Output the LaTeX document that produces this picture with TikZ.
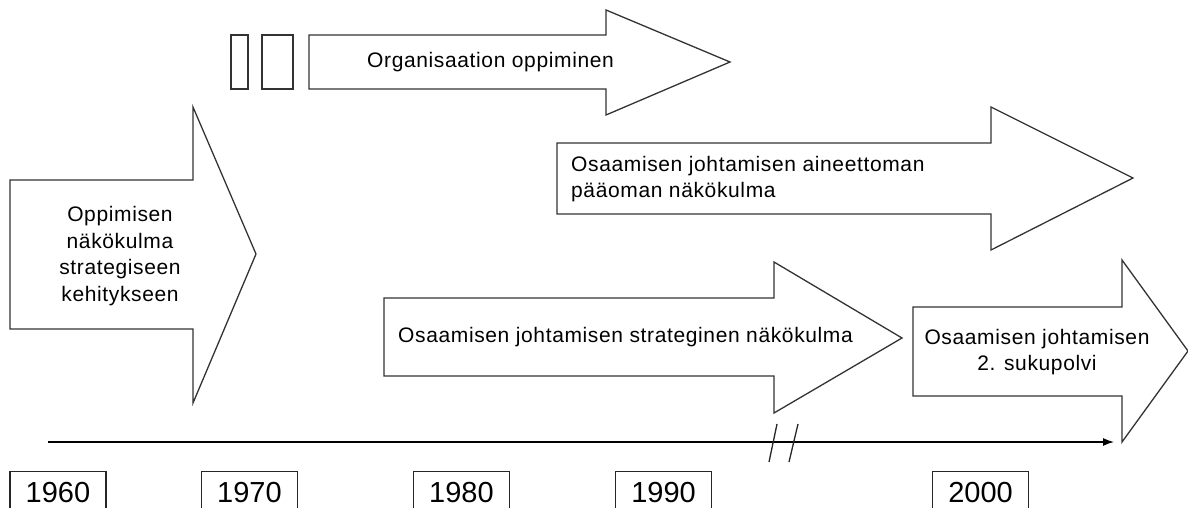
\documentclass[tikz,border=0pt]{standalone}
\usepackage{fontspec}
\setmainfont{Liberation Sans}
\newfontfamily\labelfont[LetterSpace=3]{Liberation Sans}
\usetikzlibrary{arrows.meta}
\tikzset{
  blockarrow/.style={draw=black!80, line width=1.3pt, fill=white, line join=miter},
  smallbox/.style={draw=black!80, line width=1.3pt},
  label/.style={font=\labelfont\fontsize{21}{26.5}\selectfont, text=black, inner sep=0pt},
  yearbox/.style={draw=black!85, line width=1.2pt, font=\fontsize{29}{32}\selectfont,
    minimum width=96pt, minimum height=56pt, anchor=north, inner sep=0pt, text depth=0pt},
  timeline/.style={line width=1.3pt, -{Latex[length=11pt,width=8pt]}},
  breakmark/.style={line width=1.3pt, black!85}
}
\begin{document}
\begin{tikzpicture}[x=1pt,y=-1pt]
\useasboundingbox (0,0) rectangle (1188,508);

% learning perspective to strategic development
\draw[blockarrow] (10,180) -- (193,180) -- (193,107) -- (256,254) -- (193,403) -- (193,329) -- (10,329) -- cycle;
\node[label, align=center] (oppiminen) at (120,256)
  {Oppimisen\\näkökulma\\strategiseen\\kehitykseen};

% organisational learning, preceded by two small boxes
\draw[smallbox] (231,35) rectangle (248,89);
\draw[smallbox] (262,35) rectangle (293,89);
\draw[blockarrow] (309,35) -- (606,35) -- (606,10) -- (730,62) -- (606,115) -- (606,89) -- (309,89) -- cycle;
\node[label, anchor=west] (organisaatio) at (367,62) {Organisaation oppiminen};

% intangible capital perspective
\draw[blockarrow] (557,143) -- (991,143) -- (991,107) -- (1133,178) -- (991,250) -- (991,214) -- (557,214) -- cycle;
\node[label, anchor=west, align=left] (aineeton) at (571,179)
  {Osaamisen johtamisen aineettoman\\pääoman näkökulma};

% strategic perspective
\draw[blockarrow] (384,298) -- (774,298) -- (774,262) -- (902,338) -- (774,413) -- (774,376) -- (384,376) -- cycle;
\node[label, anchor=west] (strateginen) at (398,337) {Osaamisen johtamisen strateginen näkökulma};

% second generation
\draw[blockarrow] (913,307) -- (1122,307) -- (1122,260) -- (1188,351) -- (1122,442) -- (1122,396) -- (913,396) -- cycle;
\node[label, align=center] (sukupolvi) at (1037,352)
  {Osaamisen johtamisen\\2. sukupolvi};

% time axis
\coordinate (tl-start) at (48,442);
\coordinate (tl-end) at (1114,442);
\draw[timeline] (tl-start) -- (tl-end);
\coordinate (b1a) at (777,424); \coordinate (b1b) at (769,462);
\coordinate (b2a) at (798,424); \coordinate (b2b) at (789,462);
\draw[breakmark] (b1a) -- (b1b);
\draw[breakmark] (b2a) -- (b2b);

% years
\node[yearbox] (y1960) at (58,471) {\raisebox{14pt}{1960}};
\node[yearbox] (y1970) at (249.5,471) {\raisebox{14pt}{1970}};
\node[yearbox] (y1980) at (461.5,471) {\raisebox{14pt}{1980}};
\node[yearbox] (y1990) at (663.5,471) {\raisebox{14pt}{1990}};
\node[yearbox] (y2000) at (980.5,471) {\raisebox{14pt}{2000}};
\end{tikzpicture}
\end{document}
